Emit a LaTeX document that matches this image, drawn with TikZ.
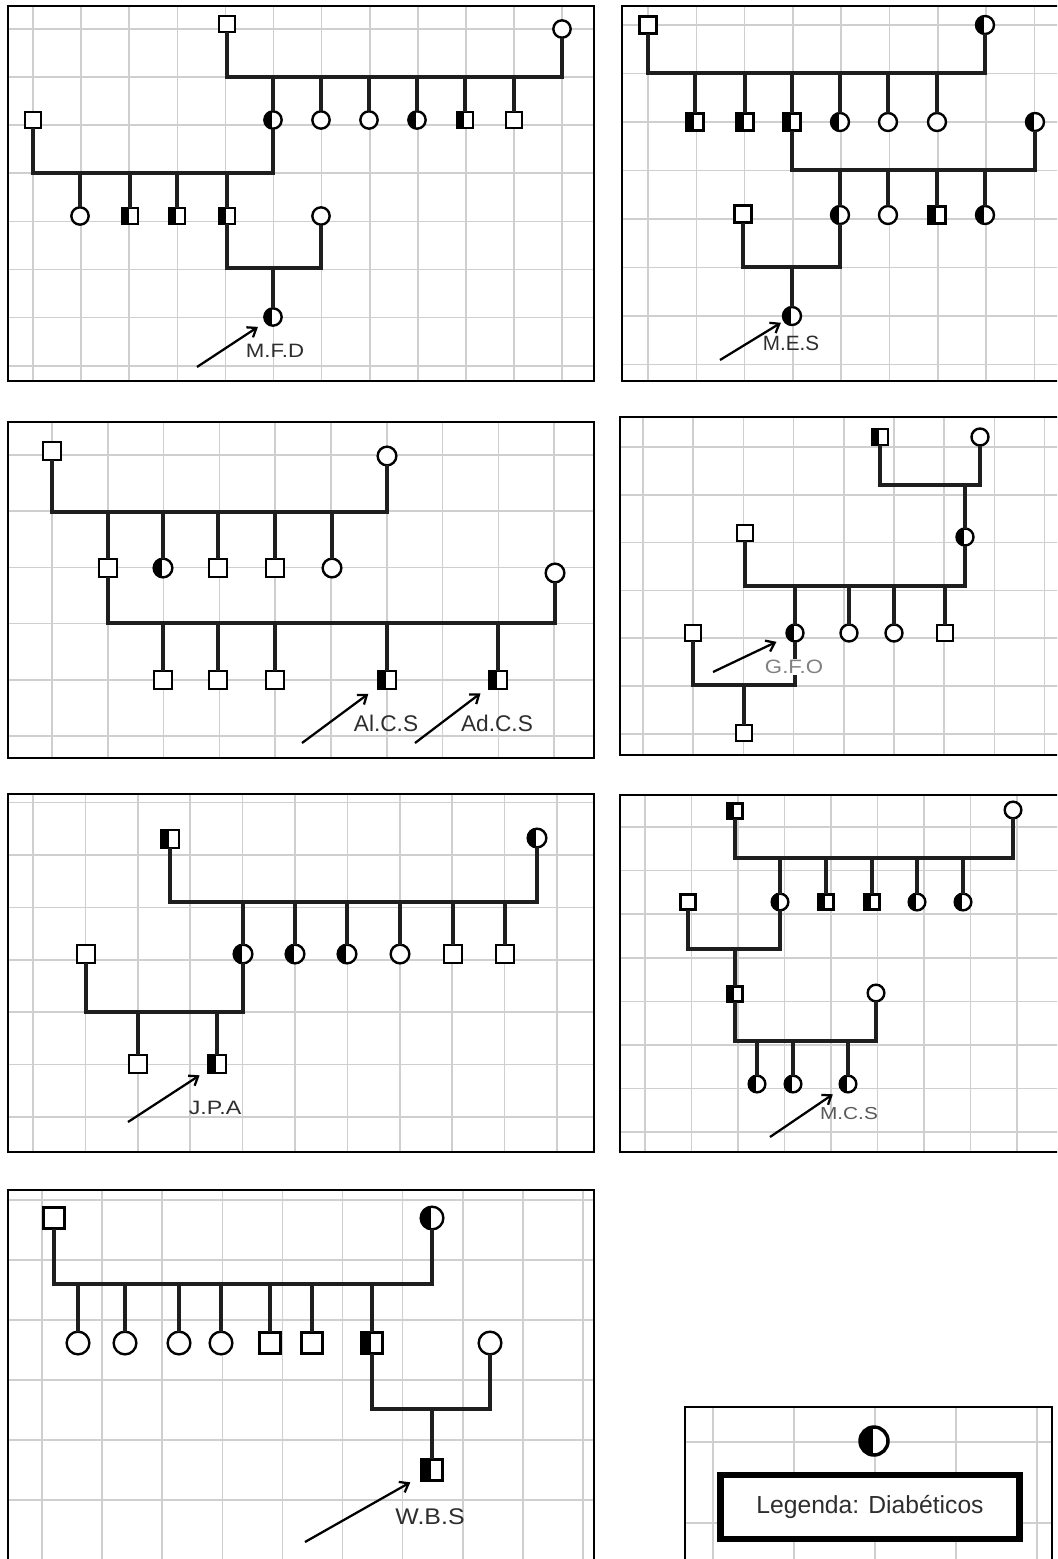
\documentclass[tikz,border=0pt]{standalone}
\usepackage{fontspec}
\setmainfont{Liberation Sans}
\usetikzlibrary{arrows.meta}
\definecolor{ln}{HTML}{1E1E1E}
\definecolor{gridc}{HTML}{CFCFCF}
\definecolor{txt}{HTML}{2E2E2E}
\tikzset{
 sym/.style={draw=black, line width=1.8pt, fill=white, inner sep=0pt, outer sep=0pt},
 sq/.style={sym, rectangle, minimum size=#1},
 ci/.style={sym, circle, minimum size=#1},
 aff/.style={path picture={\fill[black] (path picture bounding box.south west) rectangle ([xshift=-0.4pt]path picture bounding box.north);}},
 hsq/.style={sq=#1, aff},
 hci/.style={ci=#1, aff},
 rel/.style={draw=ln, line width=2.4pt},
 frm/.style={draw=black, line width=1.8pt},
 grd/.style={draw=gridc, line width=1.2pt},
 pointer/.style={draw=black, line width=1.7pt, -{Straight Barb[length=6pt,width=9pt]}},
 lbl/.style={text=txt, font=\fontsize{#1}{#1}\selectfont, inner sep=0.5pt},
}
\newcommand\pedgrid[8]{%
 \begin{scope}
 \clip (#1,#2) rectangle (#3,#4);
 \fill[white] (#1,#2) rectangle (#3,#4);
 \foreach \k in {0,...,14} {\draw[grd] ({#5+\k*#6},#2) -- ({#5+\k*#6},#4);}
 \foreach \k in {0,...,10} {\draw[grd] (#1,{#7+\k*#8}) -- (#3,{#7+\k*#8});}
 \end{scope}
 \draw[frm] (#1,#2) rectangle (#3,#4);}
\begin{document}
\begin{tikzpicture}[x=0.75pt,y=-0.75pt]
\useasboundingbox (0,0) rectangle (1057,1559);
\clip (0,0) rectangle (1057,1559);
\fill[white] (0,0) rectangle (1057,1559);
% ---------- grids and frames ----------
\pedgrid{8}{6}{594}{381}{33}{48.1}{29}{48.1}
\pedgrid{622}{6}{1065}{381}{648}{48.3}{25}{48.5}
\pedgrid{8}{422}{594}{758}{52}{55.8}{455}{56.2}
\pedgrid{620}{417}{1065}{755}{643}{50.2}{447}{47.8}
\pedgrid{8}{794}{594}{1152}{33}{52.4}{802.5}{52.4}
\pedgrid{620}{795}{1065}{1152}{645}{46.5}{827}{43.6}
\pedgrid{8}{1190}{594}{1570}{42}{60.1}{1200}{60}
\pedgrid{685}{1407}{1052}{1570}{713}{81}{1442}{81}

% ---------- Panel 1 : M.F.D ----------
\node[sq=12pt]  (a1) at (227,24) {};
\node[ci=13pt]  (a2) at (562,29) {};
\coordinate (ca1) at (400,77);
\node[hci=13pt] (a3) at (273,120) {};
\node[ci=13pt]  (a4) at (321,120) {};
\node[ci=13pt]  (a5) at (369,120) {};
\node[hci=13pt] (a6) at (417,120) {};
\node[hsq=12pt] (a7) at (465,120) {};
\node[sq=12pt]  (a8) at (514,120) {};
\draw[rel] (a1) |- (ca1) -| (a2);
\foreach \n in {a3,a4,a5,a6,a7,a8} \draw[rel] (\n) -- (\n |- ca1);
\node[sq=12pt]  (a9) at (33,120) {};
\coordinate (ca2) at (150,173);
\node[ci=13pt]  (a10) at (80,216) {};
\node[hsq=12pt] (a11) at (130,216) {};
\node[hsq=12pt] (a12) at (177,216) {};
\node[hsq=12pt] (a13) at (227,216) {};
\draw[rel] (a9) |- (ca2) -| (a3);
\foreach \n in {a10,a11,a12,a13} \draw[rel] (\n) -- (\n |- ca2);
\node[ci=13pt]  (a14) at (321,216) {};
\coordinate (ca3) at (274,268);
\draw[rel] (a13) |- (ca3) -| (a14);
\node[hci=13pt] (a15) at (273,317) {};
\draw[rel] (a15) -- (a15 |- ca3);
\coordinate (pa) at (197,367);
\draw[pointer, shorten >=7pt] (pa) -- (a15);
\node[lbl=14.5pt, xscale=1.15] (ta) at (275,351) {M.F.D};

% ---------- Panel 2 : M.E.S ----------
\node[sq=13pt]    (b1) at (648,25) {};
\node[hci=13.5pt] (b2) at (985,25) {};
\coordinate (cb1) at (800,73);
\node[hsq=13pt]   (b3) at (695,122) {};
\node[hsq=13pt]   (b4) at (745,122) {};
\node[hsq=13pt]   (b5) at (792,122) {};
\node[hci=13.5pt] (b6) at (840,122) {};
\node[ci=13.5pt]  (b7) at (888,122) {};
\node[ci=13.5pt]  (b8) at (937,122) {};
\draw[rel] (b1) |- (cb1) -| (b2);
\foreach \n in {b3,b4,b5,b6,b7,b8} \draw[rel] (\n) -- (\n |- cb1);
\node[hci=13.5pt] (b9) at (1035,122) {};
\coordinate (cb2) at (900,170);
\node[hci=13.5pt] (b10) at (840,215) {};
\node[ci=13.5pt]  (b11) at (888,215) {};
\node[hsq=13pt]   (b12) at (937,215) {};
\node[hci=13.5pt] (b13) at (985,215) {};
\draw[rel] (b5) |- (cb2) -| (b9);
\foreach \n in {b10,b11,b12,b13} \draw[rel] (\n) -- (\n |- cb2);
\node[sq=13pt]    (b14) at (743,214) {};
\coordinate (cb3) at (792,267);
\draw[rel] (b14) |- (cb3) -| (b10);
\node[hci=13.5pt] (b15) at (792,316) {};
\draw[rel] (b15) -- (b15 |- cb3);
\coordinate (pb) at (720,360);
\draw[pointer, shorten >=3pt] (pb) -- (b15);
\node[lbl=15.5pt] (tb) at (791,343) {M.E.S};

% ---------- Panel 3 : Al.C.S / Ad.C.S ----------
\node[sq=13.5pt] (c1) at (52,451) {};
\node[ci=14pt]   (c2) at (387,456) {};
\coordinate (cc1) at (200,512);
\node[sq=13.5pt] (c3) at (108,568) {};
\node[hci=14pt]  (c4) at (163,568) {};
\node[sq=13.5pt] (c5) at (218,568) {};
\node[sq=13.5pt] (c6) at (275,568) {};
\node[ci=14pt]   (c7) at (332,568) {};
\draw[rel] (c1) |- (cc1) -| (c2);
\foreach \n in {c3,c4,c5,c6,c7} \draw[rel] (\n) -- (\n |- cc1);
\node[ci=14pt]   (c8) at (555,573) {};
\coordinate (cc2) at (300,623);
\node[sq=13.5pt]  (c9) at (163,680) {};
\node[sq=13.5pt]  (c10) at (218,680) {};
\node[sq=13.5pt]  (c11) at (275,680) {};
\node[hsq=13.5pt] (c12) at (387,680) {};
\node[hsq=13.5pt] (c13) at (498,680) {};
\draw[rel] (c3) |- (cc2) -| (c8);
\foreach \n in {c9,c10,c11,c12,c13} \draw[rel] (\n) -- (\n |- cc2);
\coordinate (pc1) at (302,743);
\coordinate (pc2) at (415,743);
\draw[pointer, shorten >=9pt] (pc1) -- (c12);
\draw[pointer, shorten >=8pt] (pc2) -- (c13);
\node[lbl=17pt] (tc1) at (386,723) {Al.C.S};
\node[lbl=17pt] (tc2) at (497,723) {Ad.C.S};

% ---------- Panel 4 : G.F.O ----------
\node[hsq=12pt]   (d1) at (880,437) {};
\node[ci=12.75pt] (d2) at (980,437) {};
\coordinate (cd1) at (965,485);
\draw[rel] (d1) |- (cd1) -| (d2);
\node[hci=12.75pt] (d3) at (965,537) {};
\draw[rel] (d3) -- (d3 |- cd1);
\node[sq=12pt]    (d4) at (745,533) {};
\coordinate (cd2) at (850,586);
\node[hci=12.75pt] (d5) at (795,633) {};
\node[ci=12.75pt]  (d6) at (849,633) {};
\node[ci=12.75pt]  (d7) at (894,633) {};
\node[sq=12pt]     (d8) at (945,633) {};
\draw[rel] (d4) |- (cd2) -| (d3);
\foreach \n in {d5,d6,d7,d8} \draw[rel] (\n) -- (\n |- cd2);
\node[sq=12pt] (d9) at (693,633) {};
\coordinate (cd3) at (744,685);
\draw[rel] (d9) |- (cd3) -| (d5);
\node[sq=12pt] (d10) at (744,733) {};
\draw[rel] (d10) -- (d10 |- cd3);
\coordinate (pd) at (713,672);
\draw[pointer, shorten >=9pt] (pd) -- (d5);
\node[lbl=14.5pt, xscale=1.15, text=gray, fill=white] (td) at (794,667) {G.F.O};

% ---------- Panel 5 : J.P.A ----------
\node[hsq=13.5pt] (e1) at (170,839) {};
\node[hci=14pt]   (e2) at (537,838) {};
\coordinate (ce1) at (350,902);
\node[hci=14pt] (e3) at (243,954) {};
\node[hci=14pt] (e4) at (295,954) {};
\node[hci=14pt] (e5) at (347,954) {};
\node[ci=14pt]  (e6) at (400,954) {};
\node[sq=13.5pt] (e7) at (453,954) {};
\node[sq=13.5pt] (e8) at (505,954) {};
\draw[rel] (e1) |- (ce1) -| (e2);
\foreach \n in {e3,e4,e5,e6,e7,e8} \draw[rel] (\n) -- (\n |- ce1);
\node[sq=13.5pt] (e9) at (86,954) {};
\coordinate (ce2) at (160,1012);
\node[sq=13.5pt]  (e10) at (138,1064) {};
\node[hsq=13.5pt] (e11) at (217,1064) {};
\draw[rel] (e9) |- (ce2) -| (e3);
\foreach \n in {e10,e11} \draw[rel] (\n) -- (\n |- ce2);
\coordinate (pe) at (128,1122);
\draw[pointer, shorten >=7.5pt] (pe) -- (e11);
\node[lbl=14.5pt, xscale=1.2] (te) at (215,1108) {J.P.A};

% ---------- Panel 6 : M.C.S ----------
\node[hsq=11.5pt] (f1) at (735,811) {};
\node[ci=12.5pt]  (f2) at (1013,810) {};
\coordinate (cf1) at (870,858);
\node[hci=12.5pt] (f3) at (780,902) {};
\node[hsq=11.5pt] (f4) at (826,902) {};
\node[hsq=11.5pt] (f5) at (872,902) {};
\node[hci=12.5pt] (f6) at (917,902) {};
\node[hci=12.5pt] (f7) at (963,902) {};
\draw[rel] (f1) |- (cf1) -| (f2);
\foreach \n in {f3,f4,f5,f6,f7} \draw[rel] (\n) -- (\n |- cf1);
\node[sq=11.5pt] (f8) at (688,902) {};
\coordinate (cf2) at (735,949);
\draw[rel] (f8) |- (cf2) -| (f3);
\node[hsq=11.5pt] (f9) at (735,994) {};
\draw[rel] (f9) -- (f9 |- cf2);
\node[ci=12.5pt] (f10) at (876,993) {};
\coordinate (cf3) at (800,1041);
\draw[rel] (f9) |- (cf3) -| (f10);
\node[hci=12.5pt] (f11) at (757,1084) {};
\node[hci=12.5pt] (f12) at (793,1084) {};
\node[hci=12.5pt] (f13) at (848,1084) {};
\foreach \n in {f11,f12,f13} \draw[rel] (\n) -- (\n |- cf3);
\coordinate (pf) at (770,1137);
\draw[pointer, shorten >=7.5pt] (pf) -- (f13);
\node[lbl=13pt, xscale=1.2, text=black!65] (tf) at (849,1114) {M.C.S};

% ---------- Panel 7 : W.B.S ----------
\node[sq=16pt]  (g1) at (54,1218) {};
\node[hci=17pt] (g2) at (432,1218) {};
\coordinate (cg1) at (250,1284);
\node[ci=17pt]  (g3) at (78,1343) {};
\node[ci=17pt]  (g4) at (125,1343) {};
\node[ci=17pt]  (g5) at (179,1343) {};
\node[ci=17pt]  (g6) at (221,1343) {};
\node[sq=16pt]  (g7) at (270,1343) {};
\node[sq=16pt]  (g8) at (312,1343) {};
\node[hsq=16pt] (g9) at (372,1343) {};
\draw[rel] (g1) |- (cg1) -| (g2);
\foreach \n in {g3,g4,g5,g6,g7,g8,g9} \draw[rel] (\n) -- (\n |- cg1);
\node[ci=17pt] (g10) at (490,1343) {};
\coordinate (cg2) at (432,1409);
\draw[rel] (g9) |- (cg2) -| (g10);
\node[hsq=16pt] (g11) at (432,1470) {};
\draw[rel] (g11) -- (g11 |- cg2);
\coordinate (pg) at (305,1542);
\draw[pointer, shorten >=9.5pt] (pg) -- (g11);
\node[lbl=17pt, xscale=1.1] (tg) at (430,1517) {W.B.S};

% ---------- Legend ----------
\node[hci=21pt, line width=2.6pt] (h1) at (874,1441) {};
\node[draw=black, line width=4.8pt, fill=white, minimum width=224pt, minimum height=48pt,
      text=txt, font=\fontsize{18.5pt}{18.5pt}\selectfont] (lg) at (870,1507) {Legenda: Diabéticos};
\end{tikzpicture}
\end{document}
